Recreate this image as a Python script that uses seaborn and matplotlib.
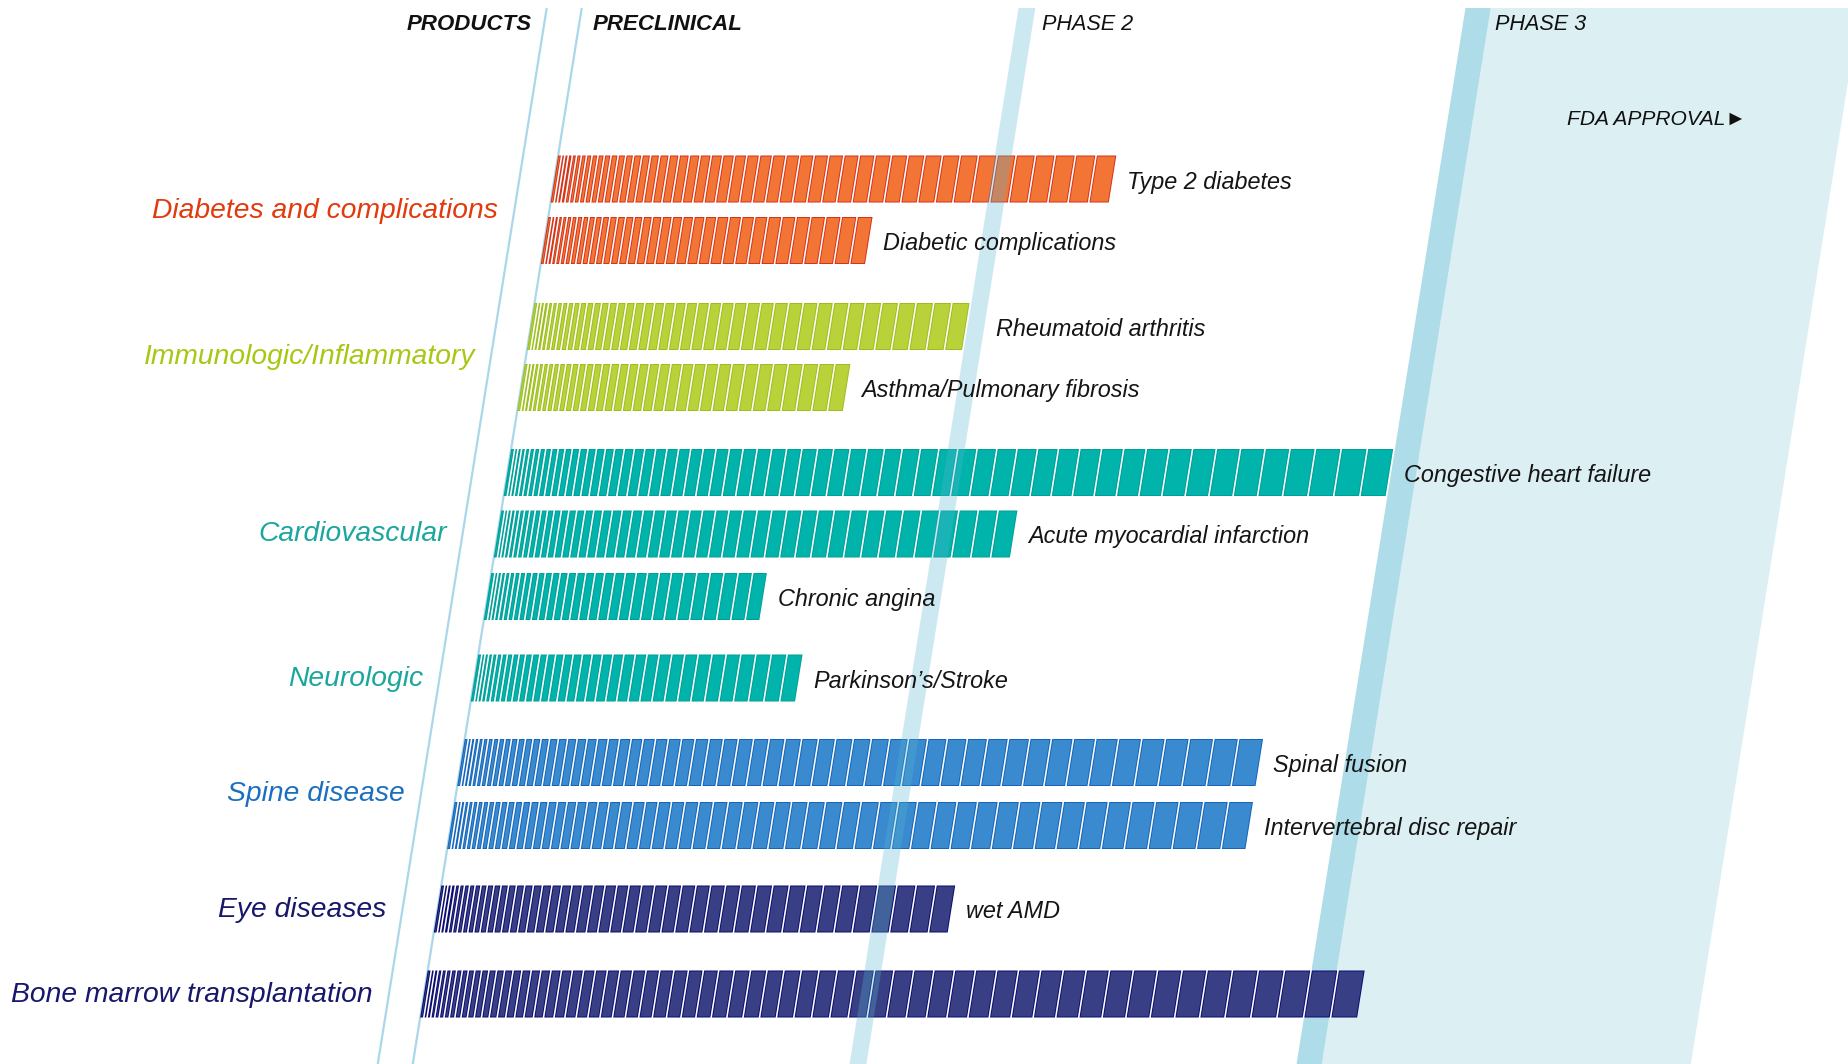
import numpy as np
import pandas as pd
import matplotlib
matplotlib.use("Agg")
import matplotlib.pyplot as plt
from matplotlib.transforms import Affine2D
from matplotlib.patches import Rectangle
from matplotlib import font_manager
import seaborn as sns

# ---------------- data ----------------
products = ["Type 2 diabetes", "Diabetic complications", "Rheumatoid arthritis",
            "Asthma/Pulmonary fibrosis", "Congestive heart failure",
            "Acute myocardial infarction", "Chronic angina", "Parkinson\u2019s/Stroke",
            "Spinal fusion", "Intervertebral disc repair", "wet AMD", ""]
# development progress in phase units (0 = start of preclinical, 1 = phase 2, 2 = phase 3)
progress = [1.26, 0.732, 0.982, 0.735, 1.991, 1.165, 0.622, 0.732, 1.802, 1.802, 1.16, 2.115]
bar_area = [0, 0, 1, 1, 2, 2, 2, 3, 4, 4, 5, 6]
areas = ["Diabetes and complications", "Immunologic/Inflammatory", "Cardiovascular",
         "Neurologic", "Spine disease", "Eye diseases", "Bone marrow transplantation"]
header_left = "PRODUCTS"
phase_names = ["PRECLINICAL", "PHASE 2", "PHASE 3"]
approval_text = "FDA APPROVAL\u25BA"

# ---------------- styling / layout ----------------
area_text_col = ["#E23A0C", "#A6C814", "#1BA69E", "#1BA69E", "#1C6FC0", "#17176B", "#17176B"]
area_face = ["#F27535", "#B9D23A", "#00B3AB", "#00B3AB", "#3A8ACF", "#383F85", "#383F85"]
area_edge = ["#D4341A", "#9DBE1F", "#00A098", "#00A098", "#1565BA", "#0C0C6E", "#0C0C6E"]
row_y = [179, 240.5, 326.5, 387.5, 472.5, 534, 596.5, 678, 762.5, 825.5, 909, 994]
label_gap = [0.034, 0.034, 0.070, 0.034, 0.034, 0.034, 0.034, 0.034, 0.032, 0.034, 0.034, 0.034]
area_y = [210, 356, 533, 678, 793, 909, 994]
BAR_H = 47.0

W, H, DPI = 1849, 1064, 100
U0, UNIT, SLOPE = 583.0, 443.0, 0.16
TOP = 8

avail = {f.name for f in font_manager.fontManager.ttflist}
NARROW = "Liberation Sans Narrow" in avail
cond = ["Liberation Sans Narrow", "DejaVu Sans"] if NARROW else ["Liberation Sans", "DejaVu Sans"]
k = 1.0 if NARROW else 0.84
ka = 1.0 if NARROW else 0.815

sns.set_theme(style="white")
plt.rcParams["font.family"] = ["Liberation Sans", "DejaVu Sans"]

fig = plt.figure(figsize=(W / DPI, H / DPI), dpi=DPI)
fig.patch.set_facecolor("white")
ax = fig.add_axes([0, 0, 1, 1])
ax.set_facecolor("white")
skew = Affine2D(np.array([[1.0, -SLOPE / UNIT, 0.0], [0.0, 1.0, 0.0], [0.0, 0.0, 1.0]])) + ax.transData

# ---------------- bars via seaborn ----------------
df = pd.DataFrame({"row": row_y, "progress": progress,
                   "bar": [f"b{i}" for i in range(len(progress))]})
pal = {f"b{i}": area_edge[bar_area[i]] for i in range(len(progress))}
sns.barplot(data=df, x="progress", y="row", hue="bar", palette=pal, orient="h",
            native_scale=True, dodge=False, legend=False, errorbar=None,
            saturation=1, linewidth=0, ax=ax, zorder=2)
for p in list(ax.patches):
    c = p.get_y() + p.get_height() / 2
    i = int(np.argmin([abs(c - r) for r in row_y]))
    p.set_y(row_y[i] - BAR_H / 2)
    p.set_height(BAR_H)
    p.set_transform(skew)
    p.set_zorder(2)

# ---------------- stripes ----------------
P0, A_INC, GAP, EDGE = 2.8, 0.40, 1.6, 1.0
base = [0.0]
while base[-1] < 1300:
    n = len(base) - 1
    base.append(base[-1] + P0 + A_INC * n)
base = np.array(base)

for i, L in enumerate(progress):
    Lpx = L * UNIT
    n = int(np.argmin(np.abs(base - Lpx)))
    b = base[: n + 1] * (Lpx / base[n])
    # white gaps
    gl = b[1:-1] / UNIT
    gaps = ax.barh([row_y[i]] * len(gl), [GAP / UNIT] * len(gl), left=gl,
                   height=BAR_H + 2, color="white", linewidth=0, zorder=3)
    for p in gaps:
        p.set_transform(skew)
    # lighter interiors
    lefts, widths = [], []
    for j in range(n):
        a0 = b[j] + (GAP if j > 0 else 0) + EDGE
        a1 = b[j + 1] - EDGE
        if a1 - a0 > 0.4:
            lefts.append(a0 / UNIT)
            widths.append((a1 - a0) / UNIT)
    ins = ax.barh([row_y[i]] * len(lefts), widths, left=lefts, height=BAR_H - 2 * EDGE,
                  color=area_face[bar_area[i]], linewidth=0, zorder=3)
    for p in ins:
        p.set_transform(skew)

# ---------------- phase bands and lines ----------------
def band(p_a, p_b, color, z, alpha=1.0):
    r = Rectangle((p_a, TOP), p_b - p_a, H - TOP + 20, facecolor=color, edgecolor="none",
                  alpha=alpha, zorder=z, transform=skew)
    ax.add_patch(r)

band(2.052, 2.885, "#DCEFF3", 0)
band(1.995, 2.052, "#AEDCE8", 0.5)
band(0.986, 1.024, "#58B6D0", 4, alpha=0.30)
for pl in (-0.079, 0.0):
    ax.plot([pl, pl], [TOP, H + 20], color="#A9D8E8", lw=1.6, transform=skew, zorder=1,
            solid_capstyle="butt")

# ---------------- texts ----------------
for i, lab in enumerate(products):
    if lab:
        ax.text(progress[i] + label_gap[i], row_y[i] + 3, lab, transform=skew, ha="left",
                va="center", fontsize=20 * k, style="italic", color="#151515",
                family=cond, zorder=6)

for j, name in enumerate(areas):
    ax.text(-0.115, area_y[j] + 1, name, transform=skew, ha="right", va="center",
            fontsize=25 * ka, style="italic", color=area_text_col[j], family=cond, zorder=6)

ax.text(-0.107, 24.5, header_left, transform=skew, ha="right", va="center", fontsize=16,
        style="italic", weight="bold", color="#111111", zorder=6)
ax.text(0.030, 24.5, phase_names[0], transform=skew, ha="left", va="center", fontsize=16,
        style="italic", weight="bold", color="#111111", zorder=6)
ax.text(1.044, 24.5, phase_names[1], transform=skew, ha="left", va="center", fontsize=18.5 * k,
        style="italic", color="#111111", family=cond, zorder=6)
ax.text(2.068, 24.5, phase_names[2], transform=skew, ha="left", va="center", fontsize=18.5 * k,
        style="italic", color="#111111", family=cond, zorder=6)
ax.text(2.668, 119.5, approval_text, transform=skew, ha="right", va="center", fontsize=18 * k,
        style="italic", color="#111111", family=cond, zorder=6)

ax.set_xlim(-U0 / UNIT, (W - U0) / UNIT)
ax.set_ylim(H, 0)
ax.set_axis_off()
fig.savefig("out.png", dpi=DPI, facecolor="white")
